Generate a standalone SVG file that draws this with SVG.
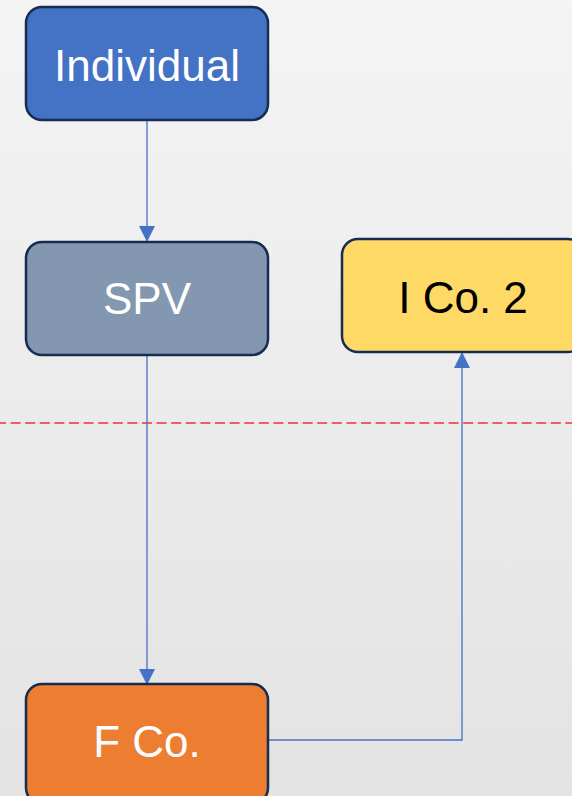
<svg xmlns="http://www.w3.org/2000/svg" width="572" height="796" viewBox="0 0 572 796">
<defs>
<linearGradient id="bg" x1="0" y1="0" x2="0" y2="1">
<stop offset="0" stop-color="#f4f4f4"/>
<stop offset="1" stop-color="#e3e3e3"/>
</linearGradient>
<marker id="ah" markerWidth="16" markerHeight="16" viewBox="0 0 16 16" refX="16" refY="8" orient="auto" markerUnits="userSpaceOnUse">
<path d="M0,0 L16,8 L0,16 Z" fill="#4472c4"/>
</marker>
</defs>
<style>
.box{stroke:#172c51;stroke-width:2.5}
.lbl{font-family:"Liberation Sans",Arial,sans-serif;font-size:44px;text-anchor:middle}
.conn{fill:none;stroke:#4472c4;stroke-width:1.3}
</style>
<rect width="572" height="796" fill="url(#bg)"/>
<line x1="-4" y1="423" x2="572" y2="423" stroke="#ee3333" stroke-width="1.6" stroke-dasharray="10,4.6"/>
<g id="connectors">
<path class="conn" d="M147,120 V242" marker-end="url(#ah)"/>
<path class="conn" d="M147,355 V685" marker-end="url(#ah)"/>
<path class="conn" d="M268,740 H462 V352" marker-end="url(#ah)"/>
</g>
<g id="individual">
<rect class="box" x="26" y="7" width="242" height="113" rx="16" fill="#4472c4"/>
<text class="lbl" x="147" y="81" fill="#ffffff">Individual</text>
</g>
<g id="spv">
<rect class="box" x="26" y="242" width="242" height="113" rx="16" fill="#8497b0"/>
<text class="lbl" x="147" y="314" fill="#ffffff">SPV</text>
</g>
<g id="ico2">
<rect class="box" x="342" y="239" width="242" height="113" rx="16" fill="#ffd966"/>
<text class="lbl" x="463" y="313" fill="#000000">I Co. 2</text>
</g>
<g id="fco">
<rect class="box" x="26" y="684" width="242" height="120" rx="16" fill="#ed7d31"/>
<text class="lbl" x="147" y="757" fill="#ffffff">F Co.</text>
</g>
</svg>
